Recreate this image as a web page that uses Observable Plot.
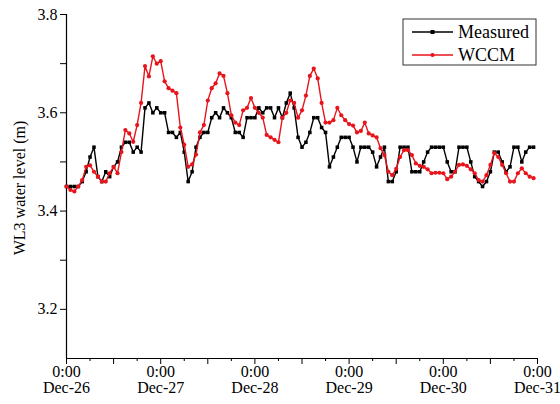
<!DOCTYPE html>
<html>
<head>
<meta charset="utf-8">
<script src="https://cdn.jsdelivr.net/npm/d3@7"></script>
<script src="https://cdn.jsdelivr.net/npm/@observablehq/plot@0.6"></script>
<style>
  html, body { margin: 0; padding: 0; background: #fff; }
  #chart { width: 560px; height: 404px; }
  #chart svg, #chart svg text { font-family: 'Liberation Serif', 'DejaVu Serif', 'Times New Roman', serif !important; }
</style>
</head>
<body>
<div id="chart"></div>
<script>
// Hourly series starting Dec-26 0:00
const startDate = "2015-12-26T00:00:00Z";
const endDate = "2015-12-31T00:00:00Z";
const seriesNames = ["Measured", "WCCM"];
const seriesColors = ["#000000", "#e8141b"];

const measured = [
  3.45,3.45,3.45,3.45,3.46,3.48,3.51,3.53,3.47,3.46,3.48,3.47,3.49,3.50,3.53,3.54,3.54,3.52,3.53,3.52,3.61,3.62,3.60,3.61,3.60,
  3.60,3.56,3.56,3.55,3.56,3.52,3.46,3.48,3.53,3.55,3.56,3.56,3.59,3.60,3.59,3.61,3.60,3.59,3.56,3.56,3.55,3.59,3.59,3.59,
  3.61,3.60,3.61,3.61,3.59,3.61,3.59,3.62,3.64,3.61,3.55,3.53,3.54,3.56,3.59,3.59,3.57,3.56,3.49,3.51,3.53,3.55,3.55,3.55,
  3.53,3.50,3.53,3.53,3.53,3.52,3.49,3.51,3.53,3.46,3.46,3.48,3.53,3.53,3.53,3.48,3.48,3.48,3.50,3.52,3.53,3.53,3.53,3.53,
  3.50,3.48,3.48,3.53,3.53,3.53,3.50,3.47,3.46,3.45,3.46,3.48,3.52,3.52,3.50,3.48,3.49,3.53,3.53,3.50,3.52,3.53,3.53
];
const wccm = [
  3.45,3.443,3.44,3.45,3.463,3.49,3.493,3.48,3.47,3.46,3.46,3.477,3.49,3.477,3.52,3.565,3.558,3.541,3.575,3.62,3.695,3.674,3.715,3.70,3.705,3.664,
  3.65,3.645,3.64,3.57,3.535,3.49,3.495,3.515,3.56,3.575,3.625,3.65,3.66,3.68,3.675,3.64,3.595,3.58,3.575,3.605,3.61,3.63,3.61,
  3.60,3.59,3.555,3.55,3.545,3.54,3.59,3.60,3.625,3.62,3.59,3.605,3.635,3.675,3.69,3.67,3.62,3.58,3.58,3.585,3.61,3.595,3.585,3.577,
  3.574,3.56,3.563,3.58,3.558,3.554,3.55,3.528,3.514,3.48,3.473,3.486,3.51,3.524,3.524,3.514,3.497,3.492,3.49,3.485,3.477,3.478,3.478,3.477,
  3.465,3.47,3.48,3.494,3.495,3.492,3.485,3.477,3.463,3.46,3.473,3.494,3.518,3.51,3.494,3.477,3.46,3.46,3.477,3.487,3.477,3.47,3.467
];
const yTickLabels = [3.2, 3.4, 3.6, 3.8];
const yMinorTicks = [3.3, 3.5, 3.7];
const yDomain = [3.1, 3.8];

const t0 = new Date(startDate);
const t1 = new Date(endDate);
const toRows = (arr, name) => arr.map((v, i) => ({time: d3.utcHour.offset(t0, i), value: v, series: name}));
const measuredRows = toRows(measured, seriesNames[0]);
const wccmRows = toRows(wccm, seriesNames[1]);

const dayTicks = d3.utcDay.range(t0, d3.utcDay.offset(t1, 1));
const halfDayTicks = d3.utcHour.every(12).range(t0, d3.utcHour.offset(t1, 1)).filter(d => d.getUTCHours() !== 0);
const quarterTicks = d3.utcHour.every(6).range(t0, t1).filter(d => d.getUTCHours() % 12 !== 0);
const fmtDay = d => "0:00\n" + d3.utcFormat("%b-%d")(d);

const font = "'Liberation Serif', 'DejaVu Serif', 'Times New Roman', serif";

const chart = Plot.plot({
  width: 560,
  height: 404,
  marginLeft: 66,
  marginRight: 23,
  marginTop: 14,
  marginBottom: 46,
  style: {fontFamily: font, fontSize: "16px", color: "#000", background: "#fff"},
  x: {type: "utc", domain: [t0, t1]},
  y: {domain: yDomain},
  marks: [
    Plot.axisY({ticks: yTickLabels, tickSize: 6, tickPadding: 3, tickFormat: d => d.toFixed(1), fontSize: 16, fontFamily: font, label: null}),
    Plot.axisY({ticks: yMinorTicks, tickSize: 6, text: null, label: null}),
    Plot.axisX({ticks: dayTicks, tickSize: 6, tickPadding: 1, tickFormat: fmtDay, fontSize: 16, fontFamily: font, label: null, lineHeight: 1}),
    Plot.axisX({ticks: halfDayTicks, tickSize: 6, text: null, label: null}),
    Plot.axisX({ticks: quarterTicks, tickSize: 3, text: null, label: null}),
    Plot.ruleX([t0], {stroke: "#000", strokeWidth: 1.2}),
    Plot.ruleY([yDomain[0]], {stroke: "#000", strokeWidth: 1.2}),
    Plot.line(measuredRows, {x: "time", y: "value", stroke: seriesColors[0], strokeWidth: 1.4}),
    Plot.dot(measuredRows, {x: "time", y: "value", symbol: "square", r: 2, fill: seriesColors[0], stroke: "none"}),
    Plot.line(wccmRows, {x: "time", y: "value", stroke: seriesColors[1], strokeWidth: 1.4}),
    Plot.dot(wccmRows, {x: "time", y: "value", r: 2.1, fill: seriesColors[1], stroke: "none"})
  ]
});

document.getElementById("chart").appendChild(chart);

// Y axis title and legend drawn on the plot's SVG
const svg = d3.select(chart);
svg.append("text")
  .attr("transform", "translate(19,188) rotate(-90)")
  .attr("text-anchor", "middle")
  .attr("dominant-baseline", "central")
  .style("font-family", font)
  .style("font-size", "16px")
  .attr("fill", "#000")
  .text("WL3 water level (m)");

const lg = svg.append("g");
lg.append("rect").attr("x", 403).attr("y", 19).attr("width", 133).attr("height", 46)
  .attr("fill", "#fff").attr("stroke", "#333").attr("stroke-width", 1);
seriesNames.forEach((name, i) => {
  const cy = 32 + i * 23;
  lg.append("line").attr("x1", 412).attr("x2", 453).attr("y1", cy).attr("y2", cy)
    .attr("stroke", seriesColors[i]).attr("stroke-width", 1.4);
  if (i === 0) {
    lg.append("rect").attr("x", 430.5).attr("y", cy - 2).attr("width", 4).attr("height", 4).attr("fill", seriesColors[i]);
  } else {
    lg.append("circle").attr("cx", 432.5).attr("cy", cy).attr("r", 2.1).attr("fill", seriesColors[i]);
  }
  lg.append("text").attr("x", 458).attr("y", cy).attr("text-anchor", "start").attr("dominant-baseline", "central")
    .style("font-family", font).style("font-size", "18px").attr("fill", "#000").text(name);
});
</script>
</body>
</html>
